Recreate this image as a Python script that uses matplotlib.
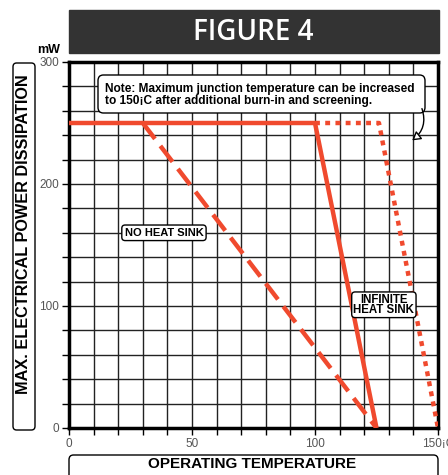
import numpy as np
import matplotlib.pyplot as plt
from matplotlib.patches import FancyBboxPatch, FancyArrowPatch

# data (temperature in C, power in mW)
solid_x = [0, 100, 125]
solid_y = [250, 250, 0]
dashed_x = [30, 125]
dashed_y = [250, 0]
dotted_x = [100, 126, 150]
dotted_y = [250, 250, 0]

xticks = [0, 50, 100, 150]
xtick_labels = ['0', '50', '100', '150¡C']
yticks = [0, 100, 200, 300]

red = '#f04a2e'
plt.rcParams['font.family'] = ['Liberation Sans', 'DejaVu Sans']

fig = plt.figure(figsize=(4.48, 4.75), dpi=100)
ax = fig.add_axes([69/448, 1-428/475, 369/448, 366/475])  # [left bottom width height]

ax.set_xlim(0, 150)
ax.set_ylim(0, 300)
ax.set_xticks(xticks)
ax.set_xticklabels(xtick_labels)
ax.set_yticks(yticks)
ax.set_xticks(np.arange(0, 151, 10), minor=True)
ax.set_yticks(np.arange(0, 301, 20), minor=True)
ax.grid(True, which='both', color='#222222', lw=1.0)
ax.set_axisbelow(True)
ax.tick_params(which='both', direction='out', length=5, width=1, color='black',
               labelsize=8.5, labelcolor='#555555', pad=2)
for s in ax.spines.values():
    s.set_linewidth(2.5)

ax.plot(solid_x, solid_y, color=red, lw=3.2, solid_capstyle='butt', zorder=3)
ax.plot(dashed_x, dashed_y, color=red, lw=3.2, dashes=(4.5, 2), zorder=3)
ax.plot(dotted_x, dotted_y, color=red, lw=3.2, dashes=(1.1, 1.2), zorder=3)

# labels on the curves
ax.text(38.6, 160, 'NO HEAT SINK', fontsize=8, fontweight='bold', ha='center', va='center',
        bbox=dict(boxstyle='round,pad=0.25,rounding_size=0.3', fc='white', ec='black', lw=1), zorder=5)
ax.text(128, 101, 'INFINITE\nHEAT SINK', fontsize=8.3, fontweight='bold', ha='center', va='center',
        linespacing=0.8,
        bbox=dict(boxstyle='round,pad=0.15,rounding_size=0.3', fc='white', ec='black', lw=1), zorder=5)

# note box with curved arrow
fig.patches.append(FancyBboxPatch((98/448, 1-113/475), 327/448, 38/475,
                                  boxstyle='round,pad=0,rounding_size=0.012',
                                  transform=fig.transFigure, fc='white', ec='black', lw=1, zorder=6))
fig.text(105/448, 1-95/475, 'Note: Maximum junction temperature can be increased\nto 150¡C after additional burn-in and screening.',
         fontsize=8.6, fontweight='bold', ha='left', va='center', linespacing=1.05, zorder=7)
fig.patches.append(FancyArrowPatch((421/448, 1-106/475), (410/448, 1-142/475),
                                   transform=fig.transFigure, connectionstyle='arc3,rad=-0.4',
                                   arrowstyle='-|>,head_length=5,head_width=3', fc='white', ec='black',
                                   lw=1, zorder=7))

# title box
fig.patches.append(plt.Rectangle((69/448, 1-53/475), 370/448, 43/475, transform=fig.transFigure,
                                 fc='#333333', ec='#333333'))
fig.text(253/448, 1-32/475, 'FIGURE 4', color='white', fontsize=20, fontweight='semibold',
         family='Open Sans', ha='center', va='center')

fig.text(60/448, 1-50/475, 'mW', fontsize=9, fontweight='bold', ha='right', va='center')

# y label box
fig.patches.append(FancyBboxPatch((13/448, 1-430/475), 22/448, 367/475,
                                  boxstyle='round,pad=0,rounding_size=0.008',
                                  transform=fig.transFigure, fc='white', ec='black', lw=1))
fig.text(24/448, 1-234/475, 'MAX. ELECTRICAL POWER DISSIPATION', rotation=90, fontsize=11.7,
         fontweight='bold', ha='center', va='center')

# x label box (runs off the bottom edge)
fig.patches.append(FancyBboxPatch((69/448, -0.05), 369/448, (1-455/475) + 0.05,
                                  boxstyle='round,pad=0,rounding_size=0.01',
                                  transform=fig.transFigure, fc='white', ec='black', lw=1))
fig.text(252/448, 1-464/475, 'OPERATING TEMPERATURE', fontsize=11, fontweight='bold',
         ha='center', va='center')

fig.savefig('out.png', dpi=100, facecolor='w')
